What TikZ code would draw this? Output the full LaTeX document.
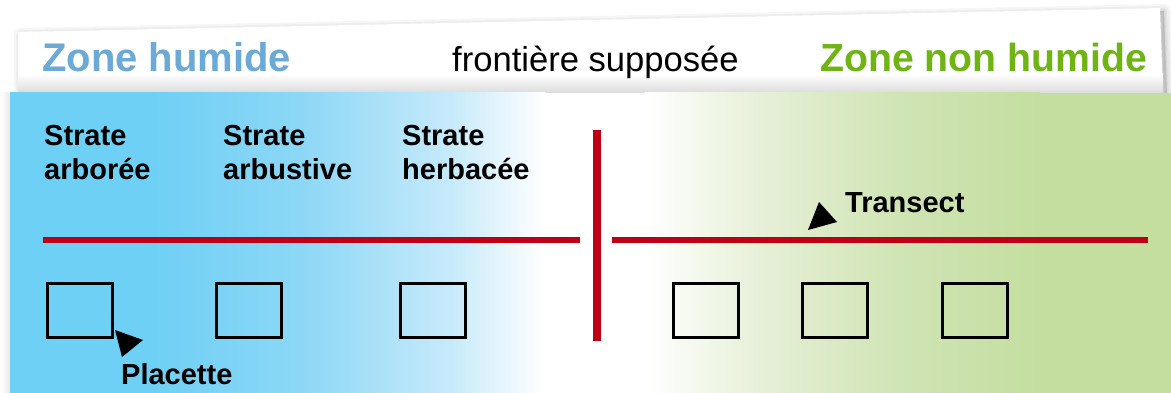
\documentclass[tikz,border=0pt]{standalone}
\usepackage{fontspec}
\setmainfont{Liberation Sans}
\definecolor{wetblue}{RGB}{110,208,245}
\definecolor{drygreen}{RGB}{196,222,160}
\definecolor{titleblue}{RGB}{107,170,214}
\definecolor{titlegreen}{RGB}{110,181,20}
\definecolor{transred}{RGB}{190,0,22}
\tikzset{
  zonetitle/.style={anchor=base west, inner sep=0pt, font=\fontsize{40}{48}\selectfont\bfseries},
  boundarylabel/.style={anchor=base west, inner sep=0pt, font=\fontsize{34.6}{40}\selectfont},
  stratelabel/.style={anchor=north west, inner sep=0pt, align=left,
    font=\fontsize{29}{34}\selectfont\bfseries},
  tag/.style={anchor=base west, inner sep=0pt, font=\fontsize{29}{34}\selectfont\bfseries},
  plot/.style={draw=black, line width=3pt, minimum width=65pt, minimum height=54pt,
    inner sep=0pt},
  transectline/.style={draw=transred, line width=6pt},
  borderline/.style={draw=transred, line width=8pt},
  pointer/.style={fill=black},
}
\begin{document}
\begin{tikzpicture}[x=1pt,y=-1pt]
\useasboundingbox (0,0) rectangle (1171,393);
\fill[white] (0,0) rectangle (1171,393);

% soft shadow under the tilted header sheet
\foreach \w in {14,10,6,3}
  \filldraw[black, opacity=0.035, line width=\w pt, line join=round]
    (21,35) -- (1164,11) -- (1167,96) -- (21,96) -- cycle;
\fill[white] (18,32) -- (1160,8) -- (1163,93) -- (18,93) -- cycle;
% darkening of the sheet towards the band
\shade[top color=white, bottom color=black!14] (18,74) rectangle (1162.8,93);

% faint shadow left of the band
\shade[left color=white, right color=black!9] (1,93) rectangle (10,393);

% background band: wet zone (blue) fading to dry zone (green)
\shade[left color=wetblue, right color=wetblue] (10,93) rectangle (150.2,393);
\shade[left color=wetblue, right color={rgb,255:red,140;green,215;blue,246}] (150,93) rectangle (300.2,393);
\shade[left color={rgb,255:red,140;green,215;blue,246}, right color={rgb,255:red,198;green,234;blue,250}] (300,93) rectangle (450.2,393);
\shade[left color={rgb,255:red,198;green,234;blue,250}, right color=white] (450,93) rectangle (545.2,393);
\fill[white] (545,93) rectangle (645.2,393);
\shade[left color=white, right color={rgb,255:red,230;green,240;blue,215}] (645,93) rectangle (760.2,393);
\shade[left color={rgb,255:red,230;green,240;blue,215}, right color={rgb,255:red,208;green,228;blue,180}] (760,93) rectangle (900.2,393);
\shade[left color={rgb,255:red,208;green,228;blue,180}, right color=drygreen] (900,93) rectangle (1040.2,393);
\fill[drygreen] (1040,93) rectangle (1171,393);

% header titles
\node[zonetitle, text=titleblue] (wet) at (42,72) {Zone humide};
\node[boundarylabel] (border) at (452,72) {frontière supposée};
\node[zonetitle, text=titlegreen, font=\fontsize{39.2}{48}\selectfont\bfseries] (dry) at (820,72) {Zone non humide};

% vegetation layers
\node[stratelabel] (s1) at (44,125) {Strate\\arborée};
\node[stratelabel] (s2) at (223,125) {Strate\\arbustive};
\node[stratelabel] (s3) at (402,125) {Strate\\herbacée};

% assumed boundary and transect
\coordinate (btop) at (597,130);
\coordinate (bbot) at (597,341);
\draw[borderline] (btop) -- (bbot);
\coordinate (tl1) at (43,240);
\coordinate (tl2) at (580,240);
\coordinate (tr1) at (612,240);
\coordinate (tr2) at (1148,240);
\draw[transectline] (tl1) -- (tl2);
\draw[transectline] (tr1) -- (tr2);

% sample plots
\node[plot] (p1) at (80,310.5) {};
\node[plot] (p2) at (249,310.5) {};
\node[plot] (p3) at (433,310.5) {};
\node[plot] (p4) at (705.5,310.5) {};
\node[plot] (p5) at (835,310.5) {};
\node[plot] (p6) at (975,310.5) {};

% labels with pointers
\node[tag] (plac) at (121,384) {Placette};
\node[tag] (trans) at (845,213) {Transect};
\fill[pointer] (115,330) -- (143,340) -- (122,357) -- cycle;
\fill[pointer] (819,202) -- (837,222) -- (808,230) -- cycle;
\end{tikzpicture}
\end{document}
